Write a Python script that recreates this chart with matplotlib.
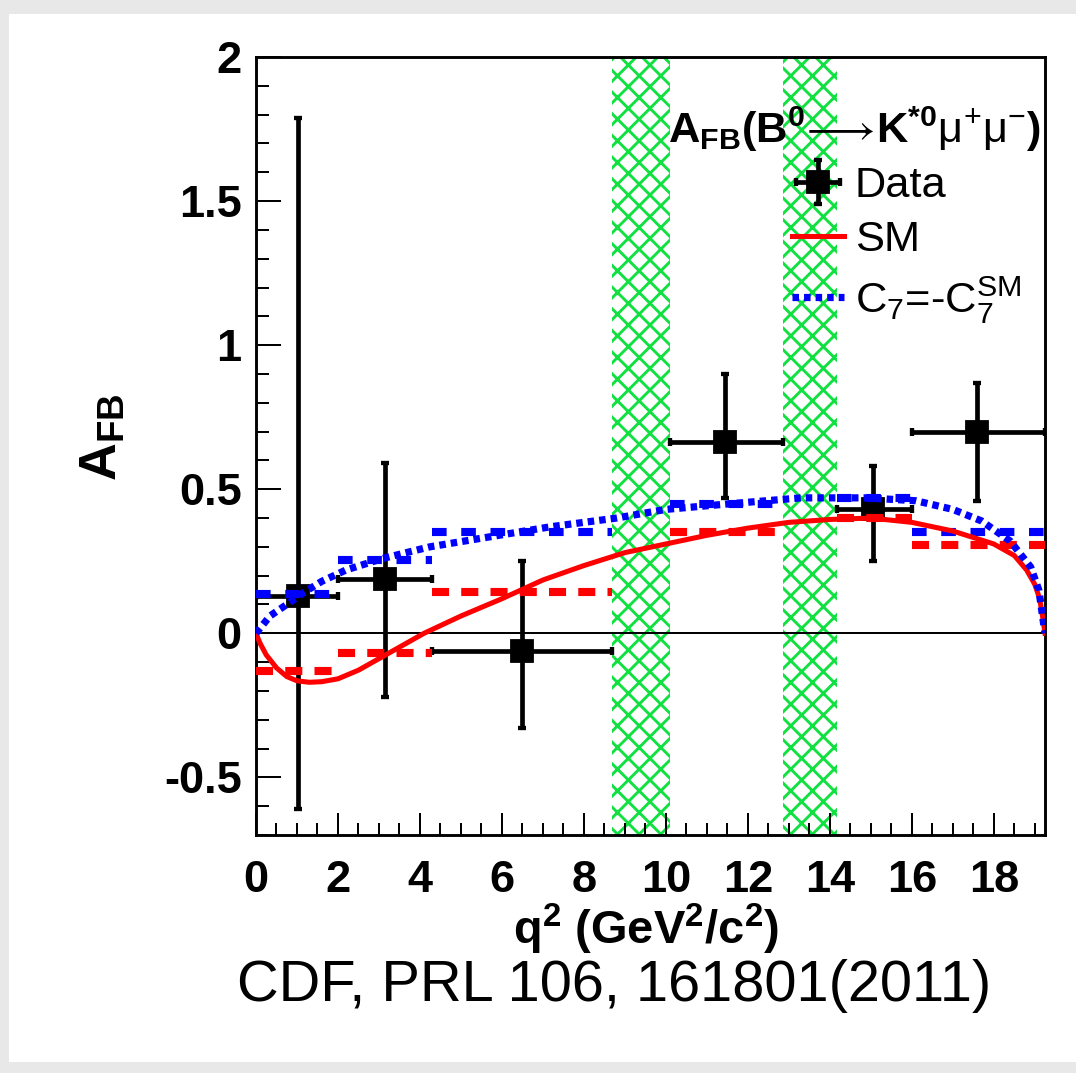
import matplotlib
matplotlib.use('Agg')
import matplotlib.pyplot as plt
from matplotlib.patches import Rectangle
from matplotlib.ticker import MultipleLocator

bin_lo = [0.0, 2.0, 4.3, 10.09, 14.18, 16.0]
bin_hi = [2.0, 4.3, 8.68, 12.86, 16.0, 19.25]
q_data = [1.02, 3.15, 6.49, 11.44, 15.05, 17.6]
afb_data = [0.13, 0.19, -0.06, 0.665, 0.43, 0.70]
err_up = [1.66, 0.40, 0.31, 0.235, 0.15, 0.17]
err_dn = [0.74, 0.41, 0.27, 0.195, 0.18, 0.24]

# bin averaged predictions (dashed steps)
sm_bin = [-0.13, -0.07, 0.143, 0.35, 0.40, 0.305]
c7_bin = [0.135, 0.255, 0.35, 0.45, 0.47, 0.35]

# SM curve
sm_q = [0, 0.1, 0.25, 0.5, 0.75, 1.0, 1.3, 1.6, 2.0, 2.5, 3.0, 3.5, 4.1, 5, 6,
        7, 8, 9, 10, 11, 12, 13, 14, 15, 16, 17, 18, 18.5, 18.8, 19.0, 19.12,
        19.2, 19.25]
sm_afb = [0, -0.035, -0.075, -0.12, -0.15, -0.165, -0.17, -0.168, -0.158,
          -0.128, -0.088, -0.048, 0.0, 0.06, 0.12, 0.185, 0.235, 0.28, 0.31,
          0.34, 0.365, 0.385, 0.395, 0.40, 0.385, 0.355, 0.31, 0.27, 0.22,
          0.17, 0.12, 0.05, 0.0]
# C7 = -C7^SM curve
c7_q = [0, 0.34, 0.75, 1.15, 1.6, 2.2, 3.1, 4.24, 5.5, 7.2, 8.8, 10.0, 10.8,
        11.6, 13.3, 14.9, 16.1, 17.0, 17.7, 18.4, 18.9, 19.1, 19.25]
c7_afb = [0, 0.06, 0.10, 0.14, 0.18, 0.22, 0.26, 0.30, 0.33, 0.37, 0.40, 0.43,
          0.44, 0.45, 0.47, 0.47, 0.46, 0.43, 0.39, 0.32, 0.23, 0.15, 0.0]

# charmonium veto regions
veto_lo = [8.68, 12.86]
veto_hi = [10.09, 14.18]

xticks = [0, 2, 4, 6, 8, 10, 12, 14, 16, 18]
yticks = [-0.5, 0, 0.5, 1, 1.5, 2]
ytick_labels = ['-0.5', '0', '0.5', '1', '1.5', '2']

plt.rcParams['font.family'] = ['Liberation Sans', 'DejaVu Sans']
plt.rcParams['mathtext.fontset'] = 'custom'
plt.rcParams['mathtext.rm'] = 'Liberation Sans'
plt.rcParams['mathtext.it'] = 'Liberation Sans:italic'
plt.rcParams['mathtext.bf'] = 'Liberation Sans:bold'
plt.rcParams['axes.unicode_minus'] = False
plt.rcParams['hatch.linewidth'] = 1.6

DPI = 130
W, H = 1076, 1073
green = '#10e040'

fig = plt.figure(figsize=(W / DPI, H / DPI), dpi=DPI)
fig.patch.set_facecolor('#e8e8e8')
fig.add_artist(Rectangle((9 / W, 1 - 1062 / H), 1, (1062 - 14) / H,
                         transform=fig.transFigure, facecolor='white',
                         edgecolor='none', zorder=-10))

ax = fig.add_axes([256 / W, 1 - 835 / H, (1045 - 256) / W, (835 - 57) / H])

for lo, hi in zip(veto_lo, veto_hi):
    ax.axvspan(lo, hi, facecolor='none', edgecolor=green, hatch='xx', lw=0, zorder=1)

ax.axhline(0, color='black', lw=1.1, zorder=2)

xerr = [[q - lo for q, lo in zip(q_data, bin_lo)], [hi - q for q, hi in zip(q_data, bin_hi)]]
data = ax.errorbar(q_data, afb_data, xerr=xerr, yerr=[err_dn, err_up], fmt='s',
                   color='black', ms=12.5, elinewidth=2.6, capsize=2.2,
                   capthick=2.4, zorder=3, label='Data')

ax.hlines(sm_bin, bin_lo, bin_hi, colors='red', lw=4.5,
          linestyles=(0, (2.1, 1.5)), zorder=4)
ax.hlines(c7_bin, bin_lo, bin_hi, colors='blue', lw=4.5,
          linestyles=(0, (1.8, 1.8)), zorder=4)

sm_line, = ax.plot(sm_q, sm_afb, color='red', lw=2.8, zorder=5, label='SM')
c7_line, = ax.plot(c7_q, c7_afb, color='blue', lw=4.0, ls=(0, (0.9, 0.7)),
                   zorder=5, label=r'$\mathrm{C_{7}}$=-$\mathrm{C_{7}^{SM}}$')

ax.set_xlim(0, 19.25)
ax.set_ylim(-0.7, 2.0)
ax.set_xticks(xticks)
ax.set_yticks(yticks, ytick_labels)
ax.xaxis.set_minor_locator(MultipleLocator(0.5))
ax.yaxis.set_minor_locator(MultipleLocator(0.1))
ax.tick_params(axis='both', which='both', direction='in', width=1.1,
               top=False, right=False, labelsize=25)
ax.tick_params(axis='x', which='major', length=12, pad=14)
ax.tick_params(axis='x', which='minor', length=6.5)
ax.tick_params(axis='y', which='major', length=14, pad=8)
ax.tick_params(axis='y', which='minor', length=7)
for lab in ax.get_xticklabels() + ax.get_yticklabels():
    lab.set_fontweight('bold')
for sp in ax.spines.values():
    sp.set_linewidth(1.6)

fig.text(646 / W, 1 - 944 / H, r'$\mathbf{q^{2}\ (GeV^{2}/c^{2})}$', fontsize=26,
         ha='center', va='baseline')
fig.text(103 / W, 1 - 437 / H, r'$\mathbf{A_{FB}}$', fontsize=29, rotation=90,
         ha='center', va='center')
fig.text(614 / W, 1 - 1001 / H, 'CDF, PRL 106, 161801(2011)', fontsize=32,
         ha='center', va='baseline')
fig.text(668 / W, 1 - 143 / H,
         r'$\mathbf{A_{FB}(B^{0}}\!\longrightarrow\!\mathbf{K^{*0}}\mathrm{\mu^{+}\mu^{-}}\mathbf{)}$',
         fontsize=24, ha='left', va='baseline')

ax.legend(handles=[data, sm_line, c7_line], loc='upper left',
          bbox_to_anchor=(792 / W, 1 - 166 / H), bbox_transform=fig.transFigure,
          frameon=False, fontsize=24, handlelength=1.2, handletextpad=0.25,
          labelspacing=0.32, borderpad=0, borderaxespad=0)

fig.savefig('out.png', dpi=DPI)
